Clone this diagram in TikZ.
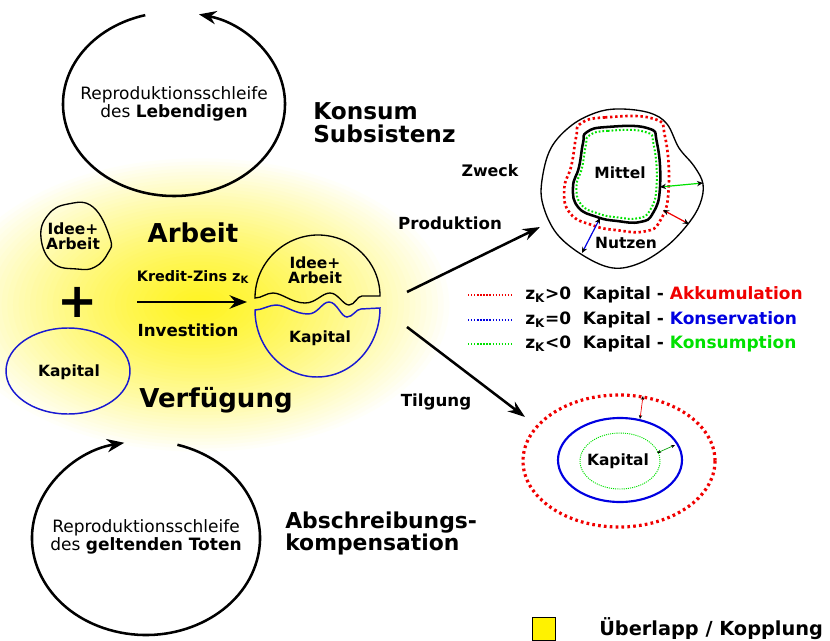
\documentclass[tikz,border=0pt]{standalone}
\usepackage{fontspec}
\setmainfont{DejaVu Sans}
\usetikzlibrary{arrows.meta}

\definecolor{akkuRed}{RGB}{240,0,0}
\definecolor{konsBlue}{RGB}{0,0,225}
\definecolor{konsGreen}{RGB}{0,225,0}
\definecolor{kapBlue}{RGB}{25,25,210}

\tikzset{
  looptext/.style={align=center, inner sep=0pt, font=\fontsize{12.75}{12}\selectfont},
  loopline/.style={line width=1.9pt, -{Stealth[length=13pt,width=10pt]}},
  flowarrow/.style={line width=1.9pt, -{Stealth[length=13pt,width=9pt]}},
  bigword/.style={inner sep=0pt, font=\fontsize{19.5}{19.5}\selectfont\bfseries},
  sideword/.style={align=left, anchor=west, inner sep=0pt, font=\fontsize{17.4}{17.25}\selectfont\bfseries},
  labeltext/.style={inner sep=0pt, font=\fontsize{12.5}{12.5}\selectfont\bfseries},
  blobtext/.style={align=center, inner sep=0pt, font=\fontsize{11.6}{11.5}\selectfont\bfseries},
  legendtext/.style={anchor=west, inner sep=0pt, font=\fontsize{12.75}{12.75}\selectfont\bfseries},
  gaparrow/.style={line width=0.9pt, {Stealth[length=4.5pt,width=4pt,black]}-{Stealth[length=4.5pt,width=4pt,black]}},
  thingap/.style={line width=0.5pt, {Stealth[length=3pt,width=2.5pt,black]}-{Stealth[length=3pt,width=2.5pt,black]}},
  redDots/.style={draw=akkuRed, line width=2pt, dash pattern=on 1.8pt off 2pt},
  greenDots/.style={draw=konsGreen, line width=1.5pt, dash pattern=on 1.3pt off 1.5pt},
  legDots/.style={line width=1.2pt, dash pattern=on 1pt off 1.3pt},
}

\begin{document}
\begin{tikzpicture}[x=0.75pt,y=0.75pt,yscale=-1,xscale=1]
\useasboundingbox (0,0) rectangle (830,641);

% yellow glow behind the coupling
\begin{scope}
\clip (0,0) rectangle (830,641);
\foreach \i in {0,...,44} {
  \pgfmathsetmacro\f{1-\i/45}
  \pgfmathsetmacro\pct{86*(1-\f^1.3)}
  \fill[yellow!\pct!white] (200,305) ellipse [x radius=255*\f, y radius=150*\f];
}
\end{scope}

% loop of the living
\node[looptext] (lebendTxt) at (174,104) {Reproduktionsschleife\\des \textbf{Lebendigen}};
\draw[loopline] (174,104) ++(255:111 and 92) arc[start angle=255, end angle=-77, x radius=111, y radius=92];
\node[sideword] (konsum) at (313,123) {Konsum\\Subsistenz};

% loop of the dead
\node[looptext] (totenTxt) at (146,537) {Reproduktionsschleife\\des \textbf{geltenden Toten}};
\draw[loopline] (146,538) ++(-74:114 and 97) arc[start angle=-74, end angle=259, x radius=114, y radius=97];
\node[sideword, font=\fontsize{16.4}{16.5}\selectfont\bfseries] (abschreib) at (285,533) {Abschreibungs-\\kompensation};

% idea + work
\draw[line width=1pt] plot[smooth cycle, tension=0.75] coordinates {(68,204) (93,207) (110,238) (108,253) (95,267) (77,269) (53,263) (41,238) (48,215)};
\node[blobtext] (ideeA) at (73,236) {Idee+\\Arbeit};
\node[inner sep=0pt, font=\fontsize{36}{36}\selectfont\bfseries] (plus) at (78,302) {+};

% capital
\draw[kapBlue, line width=1.1pt] (68,371) ellipse [x radius=62, y radius=43];
\node[blobtext] (kapA) at (69,372) {Kapital};

% investment
\node[bigword] (arbeit) at (193,233) {Arbeit};
\node[labeltext, font=\fontsize{10.8}{10.8}\selectfont\bfseries] (kredit) at (193,277) {Kredit-Zins z\textsubscript{K}};
\coordinate (invFrom) at (137,302);
\coordinate (invTo) at (247,302);
\draw[line width=2.2pt, -{Stealth[length=13pt,width=10pt]}] (invFrom) -- (invTo);
\node[labeltext] (invest) at (188,330) {Investition};
\node[bigword] (verfueg) at (216,400) {Verfügung};

% coupled blob
\draw[line width=1pt] (255,298) .. controls (255,262) and (285,235) .. (318,235) .. controls (352,235) and (380,262) .. (380,296) -- (362,296) .. controls (357,296) and (355,305) .. (349,305) .. controls (343,305) and (338,293) .. (330,293) .. controls (322,293) and (316,303) .. (305,303) .. controls (292,303) and (282,293) .. (273,293) .. controls (266,293) and (262,298) .. (255,298) -- cycle;
\draw[kapBlue, line width=1.1pt] (255,310) .. controls (262,310) and (269,305) .. (276,305) .. controls (285,305) and (295,314) .. (308,314) .. controls (318,314) and (322,302) .. (329,302) .. controls (337,302) and (341,317) .. (347,317) .. controls (353,317) and (356,309) .. (361,309) -- (380,308) .. controls (380,346) and (352,377) .. (317,377) .. controls (282,377) and (255,346) .. (255,310) -- cycle;
\node[blobtext] (ideeB) at (315,270) {Idee+\\Arbeit};
\node[blobtext] (kapB) at (320,338) {Kapital};

% production
\coordinate (prodFrom) at (407,292);
\coordinate (prodTo) at (540,227);
\draw[flowarrow] (prodFrom) -- (prodTo);
\node[labeltext] (produktion) at (450,223) {Produktion};
\node[labeltext, font=\fontsize{11.9}{11.9}\selectfont\bfseries] (zweck) at (490,171) {Zweck};

\draw[line width=1pt] plot[smooth cycle, tension=0.6] coordinates {(542,180) (551,148) (572,125) (598,112) (622,109) (650,113) (667,124) (679,148) (694,166) (703,184) (700,204) (688,224) (667,246) (640,263) (613,268) (584,256) (557,234) (543,205)};
\begin{scope}[shift={(617,175)}, scale=1.2]
\draw[redDots] plot[smooth cycle, tension=0.8] coordinates {(-30,-43) (-10,-48) (30,-47) (40,-32) (43,12) (36,38) (23,47) (0,46) (-20,42) (-39,32) (-44,12) (-38,-8) (-34,-32)};
\end{scope}
\begin{scope}[shift={(617,175)}]
\draw[line width=1.9pt] plot[smooth cycle, tension=0.8] coordinates {(-30,-43) (-10,-48) (30,-47) (40,-32) (43,12) (36,38) (23,47) (0,46) (-20,42) (-39,32) (-44,12) (-38,-8) (-34,-32)};
\end{scope}
\begin{scope}[shift={(617,175)}, scale=0.92]
\draw[greenDots] plot[smooth cycle, tension=0.8] coordinates {(-30,-43) (-10,-48) (30,-47) (40,-32) (43,12) (36,38) (23,47) (0,46) (-20,42) (-39,32) (-44,12) (-38,-8) (-34,-32)};
\end{scope}
\node[blobtext] (mittel) at (620,173) {Mittel};
\node[blobtext] (nutzen) at (626,243) {Nutzen};
\coordinate (gIn) at (660,187);
\coordinate (gOut) at (703,183);
\coordinate (rIn) at (663,210);
\coordinate (rOut) at (689,224);
\coordinate (bIn) at (600,218);
\coordinate (bOut) at (582,253);
\draw[gaparrow, konsGreen] (gIn) -- (gOut);
\draw[gaparrow, akkuRed] (rIn) -- (rOut);
\draw[gaparrow, konsBlue] (bIn) -- (bOut);

% legend
\draw[legDots, akkuRed] (468,295) -- (512,295);
\draw[legDots, konsBlue] (468,320) -- (512,320);
\draw[legDots, konsGreen] (468,344) -- (512,344);
\node[legendtext] (legAkku) at (525,295) {z\textsubscript{K}>0\ \ Kapital - \textcolor{akkuRed}{Akkumulation}};
\node[legendtext] (legKons) at (525,320) {z\textsubscript{K}=0\ \ Kapital - \textcolor{konsBlue}{Konservation}};
\node[legendtext] (legKonsum) at (525,344) {z\textsubscript{K}<0\ \ Kapital - \textcolor{konsGreen}{Konsumption}};

% repayment
\coordinate (tilgFrom) at (407,327);
\coordinate (tilgTo) at (525,417);
\draw[flowarrow] (tilgFrom) -- (tilgTo);
\node[labeltext] (tilgung) at (436,402) {Tilgung};

\draw[redDots, line width=2.4pt, dash pattern=on 2pt off 2.4pt] (619,461) ellipse [x radius=96, y radius=66];
\draw[konsBlue, line width=1.6pt] (620,460) ellipse [x radius=62, y radius=42];
\draw[konsGreen, line width=0.7pt, dash pattern=on 0.8pt off 0.8pt] (620,461) ellipse [x radius=40, y radius=28];
\node[blobtext] (kapC) at (618,461) {Kapital};
\coordinate (rTop) at (643,396);
\coordinate (rBot) at (640,419);
\coordinate (gRim) at (675,445);
\coordinate (gCore) at (657,453);
\draw[thingap, akkuRed] (rTop) -- (rBot);
\draw[thingap, konsGreen!70!black] (gRim) -- (gCore);

% key
\draw[fill=yellow, line width=0.6pt] (532,617) rectangle (555,640);
\node[anchor=west, inner sep=0pt, font=\fontsize{14.5}{14.5}\selectfont\bfseries] (keyTxt) at (599,629) {Überlapp / Kopplung};

\end{tikzpicture}
\end{document}
